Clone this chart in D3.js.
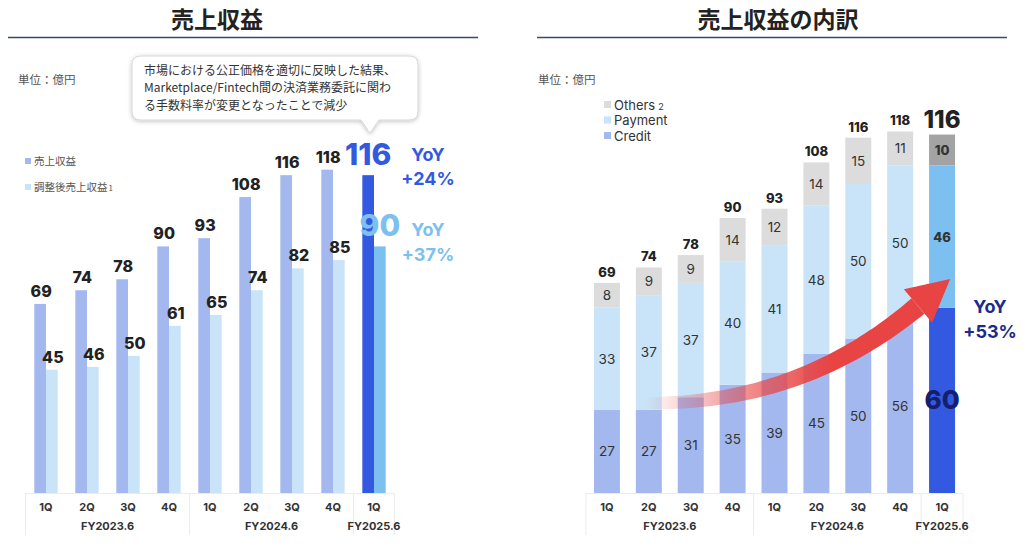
<!DOCTYPE html>
<html><head><meta charset="utf-8">
<script src="https://cdn.jsdelivr.net/npm/d3@7"></script>
<style>
html,body{margin:0;padding:0;background:#fff;}
svg{display:block;}
</style>
</head><body>
<svg id="chart" width="1024" height="546"></svg>
<script>
// ---------- data ----------
const quarters = ["1Q","2Q","3Q","4Q","1Q","2Q","3Q","4Q","1Q"];
const fyLabels = ["FY2023.6","FY2024.6","FY2025.6"];
const fyCounts = [4,4,1];
const revenue = [69,74,78,90,93,108,116,118,116];
const adjRevenue = [45,46,50,61,65,74,82,85,90];
const credit = [27,27,31,35,39,45,50,56,60];
const payment = [33,37,37,40,41,48,50,50,46];
const others = [8,9,9,14,12,14,15,11,10];
const leftLegend = ["売上収益","調整後売上収益"];
const rightLegend = ["Others","Payment","Credit"];
const yoyLeft = ["+24%","+37%"];
const yoyRight = "+53%";
const calloutLines = ["市場における公正価格を適切に反映した結果、","Marketplace/Fintech間の決済業務委託に関わ","る手数料率が変更となったことで減少"];

// ---------- styles ----------
const JP = "'Noto Sans CJK JP','Noto Sans',sans-serif";
const NUM = "Inter,'Noto Sans',sans-serif";
const C = {dark:"#a3b8ee", light:"#c9e4f8", darkHi:"#3359e0", lightHi:"#7cc0f2",
  others:"#dcdcdc", othersHi:"#a3a3a3", text:"#2a2a2a", navy:"#1c2b8a"};

const svg = d3.select("#chart");
const defs = svg.append("defs");
const f = defs.append("filter").attr("id","sh").attr("x","-10%").attr("y","-20%").attr("width","120%").attr("height","150%");
f.append("feDropShadow").attr("dx",0).attr("dy",1).attr("stdDeviation",2).attr("flood-color","#000").attr("flood-opacity",0.25);

// titles
function title(txt, cx, x0, x1){
  svg.append("text").attr("x",cx).attr("y",28).attr("text-anchor","middle")
    .attr("font-family",JP).attr("font-weight",700).attr("font-size",23).attr("fill","#222").text(txt);
  svg.append("line").attr("x1",x0).attr("x2",x1).attr("y1",37.5).attr("y2",37.5)
    .attr("stroke","#3b4a63").attr("stroke-width",1.5);
}
title("売上収益",217,8,478);
title("売上収益の内訳",778,537,1007);
[18,538].forEach(x=>svg.append("text").attr("x",x).attr("y",84).attr("font-family",JP)
  .attr("font-size",11.5).attr("fill","#555").text("単位：億円"));

const base = 493;

// x-axis table
function xTable(x, n){
  const r0 = x.range()[0], st = x.step();
  const g = svg.append("g");
  g.append("line").attr("x1",r0).attr("x2",r0+n*st).attr("y1",base+0.5).attr("y2",base+0.5).attr("stroke","#ececec");
  [0,4,8,9].forEach(k=>{
    g.append("line").attr("x1",r0+k*st).attr("x2",r0+k*st).attr("y1",base).attr("y2",base+42)
      .attr("stroke","#ececec");
  });
  quarters.forEach((q,i)=>g.append("text").attr("x",x(i)+x.bandwidth()/2).attr("y",511)
    .attr("text-anchor","middle").attr("font-family",NUM).attr("font-weight",700).attr("font-size",11)
    .attr("fill","#333").text(q));
  let s=0;
  fyLabels.forEach((l,j)=>{
    const c = r0 + (s + fyCounts[j]/2)*st;
    g.append("text").attr("x",c).attr("y",530).attr("text-anchor","middle").attr("font-family",NUM)
      .attr("font-weight",700).attr("font-size",11).attr("fill","#333").text(l);
    s += fyCounts[j];
  });
}

// ---------- left chart ----------
const xL = d3.scaleBand().domain(d3.range(9)).range([25.5,394.5]).paddingInner(0.43).paddingOuter(0.215);
const xSub = d3.scaleBand().domain([0,1]).range([0,xL.bandwidth()]);
const yL = d3.scaleLinear().domain([0,100]).range([base, base-274]);
const last = 8;
const gL = svg.append("g");
[revenue, adjRevenue].forEach((arr,si)=>{
  gL.selectAll(null).data(arr).enter().append("rect")
    .attr("x",(d,i)=>xL(i)+xSub(si)).attr("width",xSub.bandwidth())
    .attr("y",d=>yL(d)).attr("height",d=>base-yL(d))
    .attr("fill",(d,i)=> i===last ? (si?C.lightHi:C.darkHi) : (si?C.light:C.dark));
  gL.selectAll(null).data(arr.slice(0,8)).enter().append("text")
    .attr("x",(d,i)=>xL(i)+xSub(si)+xSub.bandwidth()/2 + 1).attr("y",d=>yL(d)-7)
    .attr("text-anchor","middle").attr("font-family",NUM).attr("font-weight",800).attr("font-size",16)
    .attr("fill","#222").text(d=>d);
});
// highlighted last labels
gL.append("text").attr("x",xL(last)+xSub(0)+xSub.bandwidth()/2).attr("y",yL(revenue[last])-10)
  .attr("text-anchor","middle").attr("font-family",NUM).attr("font-weight",800).attr("font-size",30)
  .attr("fill",C.darkHi).text(revenue[last]);
gL.append("text").attr("x",xL(last)+xSub(1)+xSub.bandwidth()/2).attr("y",yL(adjRevenue[last])-10)
  .attr("text-anchor","middle").attr("font-family",NUM).attr("font-weight",800).attr("font-size",30)
  .attr("fill",C.lightHi).text(adjRevenue[last]);
[[yoyLeft[0],C.darkHi,161,185],[yoyLeft[1],C.lightHi,236,261]].forEach(([t,c,y1,y2])=>{
  gL.append("text").attr("x",428).attr("y",y1).attr("text-anchor","middle").attr("font-family",NUM)
    .attr("font-weight",700).attr("font-size",18).attr("fill",c).text("YoY");
  gL.append("text").attr("x",428).attr("y",y2).attr("text-anchor","middle").attr("font-family",NUM)
    .attr("font-weight",700).attr("font-size",18).attr("fill",c).text(t);
});
xTable(xL,9);
// left legend
leftLegend.forEach((t,i)=>{
  const y = 161 + i*26;
  gL.append("rect").attr("x",25).attr("y",y-3).attr("width",6).attr("height",6).attr("fill",i?C.light:C.dark);
  const tx = gL.append("text").attr("x",34).attr("y",y+4).attr("font-family",JP).attr("font-size",10.5).attr("fill","#555").text(t);
  if(i===1) tx.append("tspan").attr("font-size",8).attr("dx",1).text("1");
});
// callout
const cb = {x0:132,x1:418,y0:56,y1:120,r:9,px:370};
const p = `M${cb.x0+cb.r},${cb.y0} H${cb.x1-cb.r} Q${cb.x1},${cb.y0} ${cb.x1},${cb.y0+cb.r} V${cb.y1-cb.r} Q${cb.x1},${cb.y1} ${cb.x1-cb.r},${cb.y1}
 H${cb.px+9} L${cb.px},${cb.y1+13} L${cb.px-9},${cb.y1} H${cb.x0+cb.r} Q${cb.x0},${cb.y1} ${cb.x0},${cb.y1-cb.r} V${cb.y0+cb.r} Q${cb.x0},${cb.y0} ${cb.x0+cb.r},${cb.y0} Z`;
svg.append("path").attr("d",p).attr("fill","#fff").attr("stroke","#d8d8d8").attr("filter","url(#sh)");
calloutLines.forEach((t,i)=>svg.append("text").attr("x",144).attr("y",74.5+i*17.5)
  .attr("font-family",JP).attr("font-size",12).attr("fill","#333").text(t));

// ---------- right chart ----------
const xR = d3.scaleBand().domain(d3.range(9)).range([586,963]).paddingInner(0.38).paddingOuter(0.19);
const yR = d3.scaleLinear().domain([0,100]).range([base, base-309]);
const rows = d3.range(9).map(i=>({i, credit:credit[i], payment:payment[i], others:others[i]}));
const keys = ["credit","payment","others"];
const stack = d3.stack().keys(keys)(rows);
const fillR = {credit:[C.dark,C.darkHi], payment:[C.light,C.lightHi], others:[C.others,C.othersHi]};
const gR = svg.append("g");
stack.forEach(layer=>{
  const k = layer.key;
  gR.selectAll(null).data(layer).enter().append("rect")
    .attr("x",d=>xR(d.data.i)).attr("width",xR.bandwidth())
    .attr("y",d=>yR(d[1])).attr("height",d=>yR(d[0])-yR(d[1]))
    .attr("fill",d=>fillR[k][d.data.i===last?1:0]);
});
// arrow (decoration)
(function(){
  const P0=[645,403], P1=[800,405], P2=[918,306];
  const N=60, top=[], bot=[];
  for(let s=0;s<=N;s++){
    const t=s/N, a=(1-t)*(1-t), b=2*(1-t)*t, c=t*t;
    const x=a*P0[0]+b*P1[0]+c*P2[0], y=a*P0[1]+b*P1[1]+c*P2[1];
    const dx=2*(1-t)*(P1[0]-P0[0])+2*t*(P2[0]-P1[0]), dy=2*(1-t)*(P1[1]-P0[1])+2*t*(P2[1]-P1[1]);
    const L=Math.hypot(dx,dy), nx=-dy/L, ny=dx/L, w=(12+8*t)/2;
    top.push([x+nx*w,y+ny*w]); bot.push([x-nx*w,y-ny*w]);
  }
  const g = defs.append("linearGradient").attr("id","ag").attr("gradientUnits","userSpaceOnUse")
    .attr("x1",645).attr("y1",0).attr("x2",830).attr("y2",0);
  g.append("stop").attr("offset",0).attr("stop-color","#e84444").attr("stop-opacity",0);
  g.append("stop").attr("offset",0.55).attr("stop-color","#e84444").attr("stop-opacity",0.6);
  g.append("stop").attr("offset",1).attr("stop-color","#e84444").attr("stop-opacity",1);
  const pts = top.concat(bot.reverse());
  gR.append("path").attr("d","M"+pts.map(q=>q.join(",")).join("L")+"Z").attr("fill","url(#ag)");
  const dx=P2[0]-P1[0], dy=P2[1]-P1[1], L=Math.hypot(dx,dy), ux=dx/L, uy=dy/L;
  const tip=[P2[0]+ux*42, P2[1]+uy*42], hw=22;
  gR.append("path").attr("d",`M${P2[0]-uy*hw},${P2[1]+ux*hw}L${tip[0]},${tip[1]}L${P2[0]+uy*hw},${P2[1]-ux*hw}Z`)
    .attr("fill","#e84444");
})();
// segment labels
stack.forEach(layer=>{
  gR.selectAll(null).data(layer).enter().append("text")
    .attr("x",d=>xR(d.data.i)+xR.bandwidth()/2)
    .attr("y",d=>(yR(d[0])+yR(d[1]))/2 + (d.data.i===last && layer.key==="credit" ? 9 : 5))
    .attr("text-anchor","middle").attr("font-family",NUM)
    .attr("font-weight",d=>d.data.i===last?800:400)
    .attr("font-size",d=>d.data.i===last ? (layer.key==="credit"?26:13) : 13.5)
    .attr("fill",d=>d.data.i===last && layer.key==="credit" ? "#14206e" : "#333")
    .text(d=>d.data[layer.key]);
});
// totals
gR.selectAll(null).data(rows).enter().append("text")
  .attr("x",d=>xR(d.i)+xR.bandwidth()/2)
  .attr("y",d=>yR(d.credit+d.payment+d.others)-(d.i===last?7:6))
  .attr("text-anchor","middle").attr("font-family",NUM).attr("font-weight",800)
  .attr("font-size",d=>d.i===last?24:13).attr("fill","#222").text(d=>revenue[d.i]);
gR.append("text").attr("x",990).attr("y",313).attr("text-anchor","middle").attr("font-family",NUM)
  .attr("font-weight",700).attr("font-size",18).attr("fill",C.navy).text("YoY");
gR.append("text").attr("x",990).attr("y",338).attr("text-anchor","middle").attr("font-family",NUM)
  .attr("font-weight",700).attr("font-size",18).attr("fill",C.navy).text(yoyRight);
xTable(xR,9);
// right legend
rightLegend.forEach((t,i)=>{
  const y = 105 + i*15.5;
  gR.append("rect").attr("x",604).attr("y",y-4).attr("width",7).attr("height",7)
    .attr("fill",[C.others,C.light,C.dark][i]);
  const tx = gR.append("text").attr("x",614).attr("y",y+4.5).attr("font-family",NUM).attr("font-size",13)
    .attr("fill","#333").text(t);
  if(i===0) tx.append("tspan").attr("font-size",9).attr("dx",3).text("2");
});
</script>
</body></html>
